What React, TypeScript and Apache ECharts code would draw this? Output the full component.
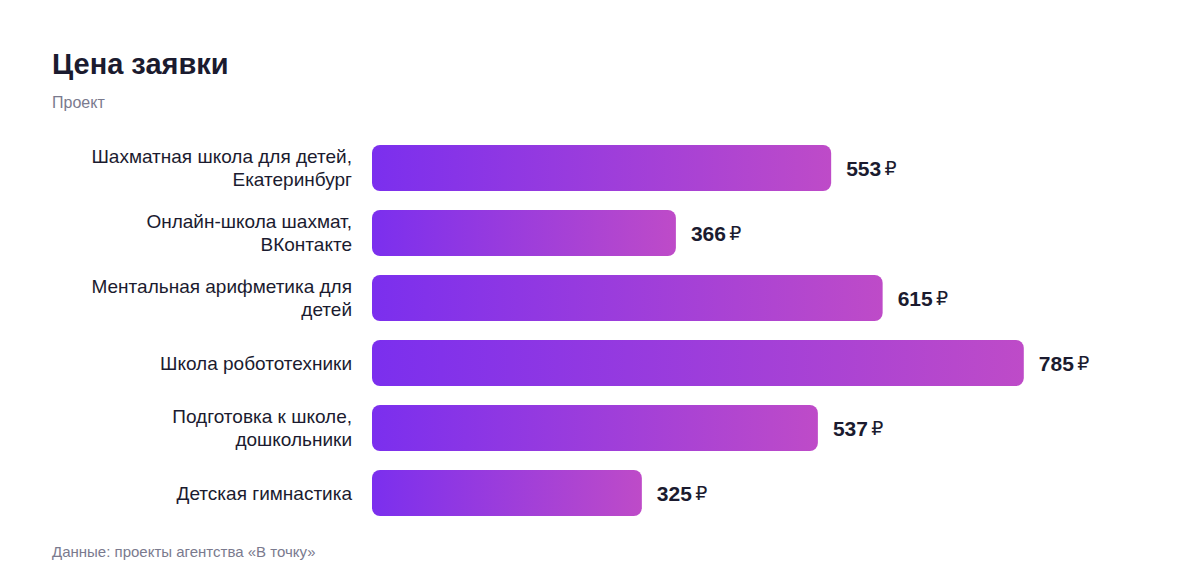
import { useEffect, useRef } from 'react';
import * as echarts from 'echarts';

const projects = [
    'Шахматная школа для детей,\nЕкатеринбург',
    'Онлайн-школа шахмат,\nВКонтакте',
    'Ментальная арифметика для\nдетей',
    'Школа робототехники',
    'Подготовка к школе,\nдошкольники',
    'Детская гимнастика',
];
const prices = [553, 366, 615, 785, 537, 325];

const FONT = '"Liberation Sans", Arial, Helvetica, sans-serif';

const App = () => {
    const chartRef = useRef(null);

    useEffect(() => {
        document.body.style.margin = '0';
        const myChart = echarts.init(chartRef.current, null, { renderer: 'svg' });

        myChart.setOption({
            animation: false,
            textStyle: { fontFamily: FONT },
            title: [
                {
                    text: 'Цена заявки',
                    left: 52,
                    top: 49,
                    padding: 0,
                    textStyle: { fontSize: 29, fontWeight: 'bold', color: '#1b1b2f', fontFamily: FONT },
                },
                {
                    text: 'Проект',
                    left: 52,
                    top: 94,
                    padding: 0,
                    textStyle: { fontSize: 16, fontWeight: 'normal', color: '#7a7a8e', fontFamily: FONT },
                },
                {
                    text: 'Данные: проекты агентства «В точку»',
                    left: 52,
                    top: 544,
                    padding: 0,
                    textStyle: { fontSize: 15, fontWeight: 'normal', color: '#7a7a8e', fontFamily: FONT },
                },
            ],
            grid: { left: 372, top: 135.5, width: 778, height: 390, containLabel: false },
            xAxis: {
                type: 'value',
                min: 0,
                max: 937,
                show: false,
            },
            yAxis: {
                type: 'category',
                data: projects,
                inverse: true,
                axisLine: { show: false },
                axisTick: { show: false },
                axisLabel: {
                    margin: 20,
                    fontSize: 19,
                    lineHeight: 23,
                    color: '#1b1b2f',
                    fontFamily: FONT,
                    align: 'right',
                },
            },
            series: [
                {
                    type: 'bar',
                    data: prices,
                    barWidth: 46,
                    itemStyle: {
                        borderRadius: 8,
                        color: new echarts.graphic.LinearGradient(0, 0, 1, 0, [
                            { offset: 0, color: '#7b2fee' },
                            { offset: 1, color: '#be4bc8' },
                        ]),
                    },
                    label: {
                        show: true,
                        position: 'right',
                        distance: 15,
                        formatter: (p: any) => `{v|${p.value}} {r|₽}`,
                        rich: {
                            v: { fontSize: 21, fontWeight: 'bold', color: '#1b1b2f', fontFamily: FONT },
                            r: { fontSize: 19, fontWeight: 'normal', color: '#1b1b2f', fontFamily: '"DejaVu Sans", sans-serif' },
                        },
                    },
                },
            ],
        });

        return () => {
            myChart.dispose();
        };
    }, []);

    return <div ref={chartRef} style={{ width: '1200px', height: '584px' }} />;
};

export default App;
